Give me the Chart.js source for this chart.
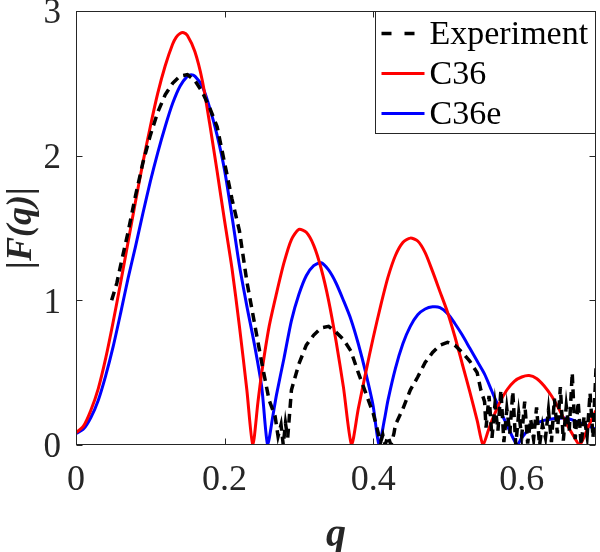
<!DOCTYPE html>
<html>
<head>
<meta charset="utf-8">
<script src="https://cdn.jsdelivr.net/npm/chart.js@4.4.0/dist/chart.umd.min.js"></script>
<style>
  html, body { margin: 0; padding: 0; background: #fff; }
  #wrap { width: 600px; height: 552px; }
</style>
</head>
<body>
<div id="wrap"><canvas id="chartFq"></canvas></div>
<script>
// ============================================================
// |F(q)| form factor: experiment vs C36 / C36e
// ============================================================

// axis ticks
const xTicks = [0, 0.2, 0.4, 0.6];
const xTickLabels = ['0', '0.2', '0.4', '0.6'];
const yTicks = [0, 1, 2, 3];
const yTickLabels = ['0', '1', '2', '3'];

// series names
const seriesNames = ['Experiment', 'C36', 'C36e'];

// [q, |F(q)|]
const experiment = [
  [0.048, 1.0], [0.055, 1.12], [0.06, 1.24], [0.07, 1.47], [0.08, 1.72], [0.09, 1.95],
  [0.10, 2.14], [0.11, 2.3], [0.12, 2.42], [0.13, 2.5], [0.14, 2.55], [0.15, 2.56],
  [0.16, 2.52], [0.17, 2.44], [0.18, 2.33], [0.19, 2.2], [0.20, 1.95], [0.21, 1.7],
  [0.22, 1.48], [0.23, 1.13], [0.24, 0.85], [0.25, 0.57], [0.26, 0.31], [0.268, 0.2],
  [0.272, 0.06], [0.276, 0.14], [0.279, 0.0], [0.282, 0.15], [0.285, 0.05], [0.29, 0.38],
  [0.30, 0.56], [0.31, 0.69], [0.32, 0.76], [0.33, 0.81], [0.34, 0.82], [0.35, 0.78],
  [0.36, 0.73], [0.37, 0.65], [0.38, 0.5], [0.39, 0.36], [0.40, 0.22], [0.405, 0.12],
  [0.41, 0.02], [0.413, 0.07], [0.416, 0.0], [0.42, 0.06], [0.424, 0.0], [0.428, 0.08],
  [0.43, 0.14], [0.44, 0.25], [0.45, 0.38], [0.46, 0.47], [0.47, 0.57], [0.48, 0.64],
  [0.49, 0.69], [0.50, 0.71], [0.51, 0.69], [0.52, 0.64], [0.53, 0.58], [0.54, 0.5],
  [0.545, 0.38], [0.55, 0.3], [0.552, 0.12], [0.556, 0.34], [0.56, 0.05], [0.564, 0.28],
  [0.568, 0.1], [0.572, 0.38], [0.576, 0.02], [0.58, 0.25], [0.584, 0.08], [0.588, 0.37],
  [0.592, 0.0], [0.596, 0.22], [0.60, 0.06], [0.604, 0.3], [0.608, 0.01], [0.612, 0.18],
  [0.616, 0.04], [0.62, 0.26], [0.624, 0.0], [0.628, 0.14], [0.632, 0.05], [0.636, 0.24],
  [0.64, 0.02], [0.644, 0.32], [0.648, 0.08], [0.652, 0.4], [0.656, 0.03], [0.66, 0.27],
  [0.664, 0.1], [0.668, 0.5], [0.672, 0.04], [0.676, 0.3], [0.68, 0.0], [0.684, 0.2],
  [0.688, 0.06], [0.692, 0.36], [0.696, 0.05], [0.70, 0.53]
];

const c36 = [
  [0, 0.085], [0.01, 0.13], [0.02, 0.24], [0.03, 0.39], [0.04, 0.6], [0.05, 0.85],
  [0.06, 1.12], [0.07, 1.4], [0.08, 1.68], [0.09, 1.95], [0.10, 2.2], [0.11, 2.43],
  [0.12, 2.62], [0.13, 2.77], [0.135, 2.82], [0.14, 2.845], [0.145, 2.85], [0.15, 2.83],
  [0.16, 2.72], [0.17, 2.52], [0.18, 2.22], [0.19, 1.89], [0.20, 1.55], [0.21, 1.22],
  [0.22, 0.82], [0.23, 0.38], [0.238, 0],
  [0.245, 0.3], [0.25, 0.5], [0.26, 0.82], [0.27, 1.05], [0.28, 1.26], [0.29, 1.42],
  [0.30, 1.49], [0.31, 1.47], [0.32, 1.38], [0.33, 1.22], [0.34, 1.0], [0.35, 0.72],
  [0.36, 0.4], [0.371, 0],
  [0.38, 0.25], [0.39, 0.5], [0.40, 0.74], [0.41, 0.96], [0.42, 1.16], [0.43, 1.31],
  [0.44, 1.4], [0.45, 1.43], [0.46, 1.41], [0.47, 1.33], [0.48, 1.2], [0.49, 1.06],
  [0.50, 0.92], [0.51, 0.75], [0.52, 0.56], [0.53, 0.37], [0.54, 0.17], [0.548, 0],
  [0.555, 0.1], [0.56, 0.17], [0.57, 0.29], [0.58, 0.38], [0.59, 0.44], [0.60, 0.47],
  [0.61, 0.48], [0.62, 0.46], [0.63, 0.41], [0.64, 0.34], [0.65, 0.25], [0.66, 0.15],
  [0.67, 0.06], [0.678, 0], [0.69, 0.13], [0.70, 0.24]
];

const c36e = [
  [0, 0.08], [0.01, 0.11], [0.02, 0.19], [0.03, 0.31], [0.04, 0.48], [0.05, 0.68],
  [0.06, 0.91], [0.07, 1.15], [0.08, 1.37], [0.09, 1.6], [0.10, 1.82], [0.11, 2.02],
  [0.12, 2.2], [0.13, 2.36], [0.14, 2.48], [0.15, 2.55], [0.155, 2.56], [0.16, 2.55],
  [0.17, 2.48], [0.18, 2.33], [0.19, 2.14], [0.20, 1.9], [0.21, 1.58], [0.22, 1.24],
  [0.23, 0.96], [0.24, 0.7], [0.25, 0.4], [0.258, 0],
  [0.265, 0.2], [0.27, 0.35], [0.28, 0.6], [0.29, 0.86], [0.30, 1.04], [0.31, 1.17],
  [0.32, 1.24], [0.33, 1.26], [0.34, 1.21], [0.35, 1.12], [0.36, 1.0], [0.37, 0.87],
  [0.38, 0.7], [0.39, 0.5], [0.40, 0.27], [0.408, 0],
  [0.415, 0.17], [0.42, 0.31], [0.43, 0.53], [0.44, 0.7], [0.45, 0.82], [0.46, 0.9],
  [0.47, 0.94], [0.48, 0.955], [0.49, 0.95], [0.50, 0.91], [0.51, 0.84], [0.52, 0.76],
  [0.53, 0.67], [0.54, 0.58], [0.55, 0.49], [0.56, 0.37], [0.57, 0.25], [0.58, 0.14],
  [0.594, 0],
  [0.60, 0.05], [0.61, 0.11], [0.62, 0.15], [0.63, 0.17], [0.64, 0.18], [0.65, 0.185],
  [0.66, 0.185], [0.67, 0.17], [0.68, 0.15], [0.69, 0.13], [0.70, 0.11]
];

const AXIS_COLOR = '#262626';
const FONT = '"Liberation Serif", "Times New Roman", serif';

const toPoints = arr => arr.map(p => ({ x: p[0], y: p[1] }));

// box, inward ticks and the in-plot legend
const frameAndLegend = {
  id: 'frameAndLegend',
  afterDatasetsDraw(chart) {
    const { ctx, chartArea: a, scales } = chart;
    const L = Math.round(a.left) + 0.5, R = Math.round(a.right) - 0.5;
    const T = Math.round(a.top) + 0.5, B = Math.round(a.bottom) - 0.5;
    const len = 6;

    ctx.save();
    ctx.strokeStyle = AXIS_COLOR;
    ctx.lineWidth = 1;
    ctx.setLineDash([]);
    ctx.strokeRect(L, T, R - L, B - T);

    ctx.beginPath();
    xTicks.forEach(v => {
      const px = Math.round(scales.x.getPixelForValue(v)) + 0.5;
      ctx.moveTo(px, B); ctx.lineTo(px, B - len);
      ctx.moveTo(px, T); ctx.lineTo(px, T + len);
    });
    yTicks.forEach(v => {
      const py = Math.round(scales.y.getPixelForValue(v)) + 0.5;
      ctx.moveTo(L, py); ctx.lineTo(L + len, py);
      ctx.moveTo(R, py); ctx.lineTo(R - len, py);
    });
    ctx.stroke();

    // legend box, top right corner
    const boxW = 220, boxH = 122;
    const bx = R - boxW, by = T;
    ctx.fillStyle = '#fff';
    ctx.fillRect(bx, by, boxW, boxH);
    ctx.strokeStyle = AXIS_COLOR;
    ctx.lineWidth = 1;
    ctx.strokeRect(bx, by, boxW, boxH);

    ctx.font = '34px ' + FONT;
    ctx.textBaseline = 'middle';
    ctx.textAlign = 'left';
    chart.data.datasets.forEach((ds, i) => {
      const cy = by + 22 + i * 40;
      ctx.beginPath();
      ctx.strokeStyle = ds.borderColor;
      ctx.lineWidth = ds.borderWidth;
      ctx.setLineDash(ds.borderDash ? [10, 13] : []);
      ctx.moveTo(bx + 6, cy);
      ctx.lineTo(bx + 49, cy);
      ctx.stroke();
      ctx.setLineDash([]);
      ctx.fillStyle = '#000';
      ctx.fillText(ds.label, bx + 54, cy + 2);
    });
    ctx.restore();
  }
};

const ctx = document.getElementById('chartFq');
new Chart(ctx, {
  type: 'line',
  data: {
    datasets: [
      {
        label: seriesNames[0],
        data: toPoints(experiment),
        borderColor: '#000000',
        borderWidth: 3.5,
        borderDash: [9, 6],
        pointRadius: 0,
        tension: 0
      },
      {
        label: seriesNames[1],
        data: toPoints(c36),
        borderColor: '#ff0000',
        borderWidth: 3,
        pointRadius: 0,
        tension: 0.25
      },
      {
        label: seriesNames[2],
        data: toPoints(c36e),
        borderColor: '#0000ff',
        borderWidth: 3,
        pointRadius: 0,
        tension: 0.25
      }
    ]
  },
  options: {
    responsive: true,
    maintainAspectRatio: false,
    animation: false,
    layout: { padding: { left: 0, right: 4, top: 11, bottom: 0 } },
    plugins: {
      legend: { display: false },
      tooltip: { enabled: false }
    },
    scales: {
      x: {
        type: 'linear',
        min: 0,
        max: 0.7,
        grid: { display: false, drawTicks: false },
        border: { display: false },
        afterBuildTicks: s => { s.ticks = xTicks.map(v => ({ value: v })); },
        afterFit: s => { s.height = 107; s.paddingLeft = 0; s.paddingRight = 0; },
        ticks: {
          color: AXIS_COLOR,
          font: { family: FONT, size: 36 },
          padding: 14,
          maxRotation: 0,
          callback: (v, i) => xTickLabels[i]
        },
        title: {
          display: true,
          text: 'q',
          color: AXIS_COLOR,
          font: { family: FONT, size: 40, style: 'italic', weight: 'bold', lineHeight: 0.84 },
          padding: { top: 0, bottom: 0 }
        }
      },
      y: {
        min: 0,
        max: 3,
        grid: { display: false, drawTicks: false },
        border: { display: false },
        afterBuildTicks: s => { s.ticks = yTicks.map(v => ({ value: v })); },
        afterFit: s => { s.width = 76; s.paddingTop = 0; s.paddingBottom = 0; },
        ticks: {
          color: AXIS_COLOR,
          font: { family: FONT, size: 35 },
          padding: 15,
          labelOffset: 3,
          callback: (v, i) => yTickLabels[i]
        },
        title: {
          display: true,
          text: '|F(q)|',
          color: AXIS_COLOR,
          font: { family: FONT, size: 36, style: 'italic', weight: 'bold' },
          padding: { top: 0, bottom: 0 }
        }
      }
    }
  },
  plugins: [frameAndLegend]
});
</script>
</body>
</html>
